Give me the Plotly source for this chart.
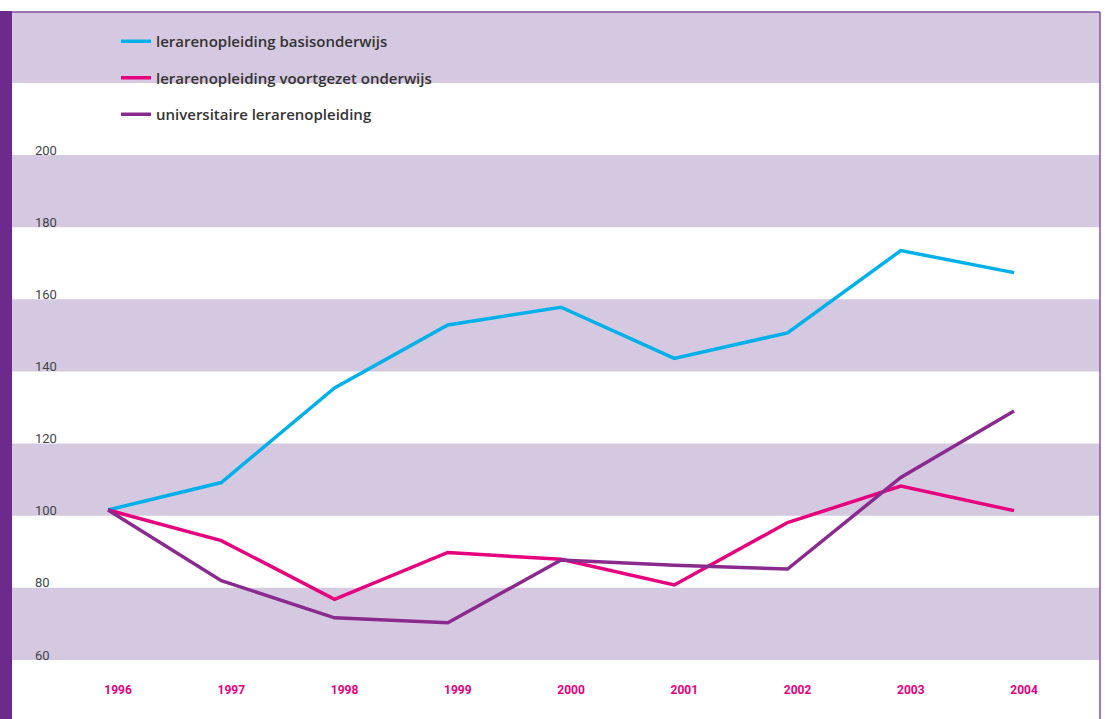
import plotly.graph_objects as go

years = [1996, 1997, 1998, 1999, 2000, 2001, 2002, 2003, 2004]
basis = [101.6, 109.2, 135.4, 152.9, 157.8, 143.6, 150.7, 173.5, 167.4]
voortgezet = [101.6, 93.1, 76.8, 89.8, 87.9, 80.8, 98.1, 108.2, 101.4]
universitair = [101.6, 82.0, 71.7, 70.3, 87.7, 86.3, 85.2, 110.6, 129.0]
names = ["lerarenopleiding basisonderwijs", "lerarenopleiding voortgezet onderwijs",
         "universitaire lerarenopleiding"]
colors = ["#00b0ea", "#e6007e", "#8b2a8e"]
y_ticks = [60, 80, 100, 120, 140, 160, 180, 200]
bands = [(60, 80), (100, 120), (140, 160), (180, 200), (220, 240)]

W, H = 1105, 719
ml, mr, mt, mb = 12, 5, 12, 0
pw, ph = W - ml - mr, H - mt - mb

fig = go.Figure()
for i, (s, c, n) in enumerate(zip([basis, voortgezet, universitair], colors, names)):
    fig.add_trace(go.Scatter(x=years, y=s, mode="lines", name=n,
                             line=dict(color=c, width=3.5), legendgroup=str(i)))

shapes = []
for a, b in bands:
    shapes.append(dict(type="rect", xref="paper", yref="y", x0=0, x1=1, y0=a, y1=b,
                       fillcolor="#d5c8e1", line_width=0, layer="below"))
# left purple bar
shapes.append(dict(type="rect", xref="paper", yref="paper", x0=-ml / pw, x1=0,
                   y0=0, y1=1 + 1 / ph, fillcolor="#6b2a8c", line_width=0))
# top border
shapes.append(dict(type="line", xref="paper", yref="paper", x0=0, x1=1, y0=1, y1=1,
                   line=dict(color="#8150a8", width=1.5)))
# right border
shapes.append(dict(type="line", xref="paper", yref="paper", x0=1, x1=1, y0=1,
                   y1=0, line=dict(color="#8150a8", width=1.5)))

fig.update_layout(
    width=W, height=H,
    margin=dict(l=ml, r=mr, t=mt, b=mb),
    paper_bgcolor="white", plot_bgcolor="white",
    shapes=shapes,
    showlegend=True,
    legend=dict(x=(116 - ml) / pw, y=1 - (25 - mt) / ph, xanchor="left", yanchor="top",
                bgcolor="rgba(0,0,0,0)", tracegroupgap=14, traceorder="grouped",
                font=dict(family="Open Sans", size=15, color="#333333", weight=600)),
    xaxis=dict(range=[1995.152, 2004.759], tickvals=years, ticktext=[str(y) for y in years],
               showgrid=False, zeroline=False, showline=False, ticks="",
               ticklabelposition="inside", ticklabelshift=10, ticklabelstandoff=20,
               tickfont=dict(family="Roboto", size=12, color="#e6007e", weight=700)),
    yaxis=dict(range=[43.64, 239.65], tickvals=y_ticks, showgrid=False, zeroline=False,
               showline=False, ticks="", ticklabelposition="inside",
               ticklabelstandoff=20, ticklabelshift=-5,
               tickfont=dict(family="Roboto", size=13, color="#444444")),
)

fig.write_html("out.html", config={"displayModeBar": False},
               post_script="document.body.style.margin='0';")
